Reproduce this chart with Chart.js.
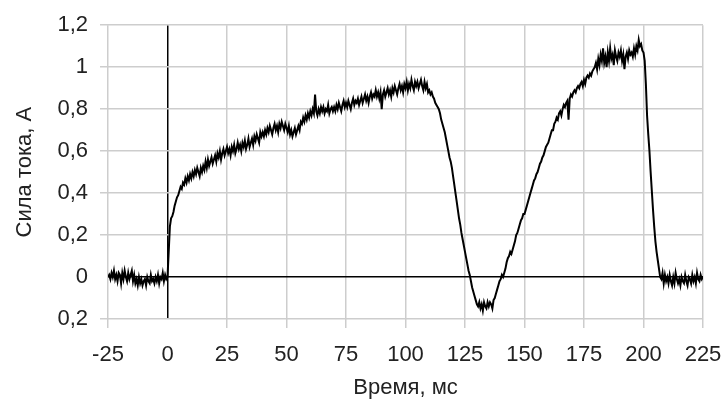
<!DOCTYPE html>
<html>
<head>
<meta charset="utf-8">
<script src="https://cdn.jsdelivr.net/npm/chart.js@4/dist/chart.umd.min.js"></script>
<style>
  body { margin: 0; background: #fff; }
  canvas { display: block; }
</style>
</head>
<body>
<canvas id="chart" width="724" height="401"></canvas>
<script>
// Oscilloscope trace, sampled every 0.5 ms starting at -25 ms
const tStart = -25;
const tStep = 0.5;

// Current, A (10 samples per line = 5 ms)
const current = [
  0.00, 0.01, -0.01, 0.02, 0.00, 0.03, -0.01, 0.01, -0.02, 0.02,   // -25
  0.01, -0.03, 0.02, -0.01, 0.03, 0.00, -0.02, 0.02, -0.01, 0.01,  // -20
  0.03, -0.02, 0.01, -0.03, -0.01, -0.04, 0.00, -0.03, -0.01, -0.04, // -15
  -0.02, -0.01, -0.04, 0.00, -0.02, -0.03, 0.01, -0.02, -0.01, -0.03, // -10
  0.00, -0.02, 0.01, -0.03, 0.00, -0.01, 0.02, -0.02, 0.01, -0.01,  // -5
  0.00, 0.12, 0.24, 0.28, 0.29, 0.31, 0.34, 0.36, 0.38, 0.39,       // 0
  0.41, 0.43, 0.42, 0.45, 0.44, 0.47, 0.45, 0.48, 0.46, 0.49,       // 5
  0.47, 0.50, 0.48, 0.51, 0.49, 0.52, 0.50, 0.48, 0.52, 0.50,       // 10
  0.53, 0.51, 0.55, 0.52, 0.56, 0.53, 0.55, 0.57, 0.54, 0.56,       // 15
  0.58, 0.55, 0.59, 0.57, 0.60, 0.56, 0.59, 0.61, 0.58, 0.60,       // 20
  0.62, 0.59, 0.61, 0.58, 0.62, 0.60, 0.63, 0.59, 0.61, 0.64,       // 25
  0.61, 0.63, 0.60, 0.64, 0.62, 0.65, 0.61, 0.63, 0.66, 0.62,       // 30
  0.64, 0.66, 0.63, 0.67, 0.65, 0.68, 0.66, 0.64, 0.69, 0.67,       // 35
  0.69, 0.67, 0.70, 0.68, 0.71, 0.69, 0.72, 0.70, 0.68, 0.71,       // 40
  0.73, 0.70, 0.72, 0.69, 0.73, 0.71, 0.74, 0.72, 0.70, 0.73,       // 45
  0.71, 0.69, 0.72, 0.68, 0.70, 0.67, 0.69, 0.71, 0.68, 0.70,       // 50
  0.72, 0.70, 0.74, 0.73, 0.76, 0.74, 0.77, 0.75, 0.78, 0.76,       // 55
  0.79, 0.77, 0.80, 0.78, 0.87, 0.79, 0.77, 0.80, 0.78, 0.81,       // 60
  0.79, 0.81, 0.78, 0.80, 0.79, 0.82, 0.78, 0.80, 0.81, 0.79,       // 65
  0.81, 0.79, 0.82, 0.80, 0.83, 0.81, 0.79, 0.82, 0.84, 0.81,       // 70
  0.83, 0.81, 0.84, 0.82, 0.80, 0.83, 0.85, 0.82, 0.84, 0.83,       // 75
  0.85, 0.82, 0.84, 0.86, 0.83, 0.85, 0.87, 0.84, 0.86, 0.83,       // 80
  0.86, 0.88, 0.85, 0.87, 0.86, 0.89, 0.86, 0.88, 0.85, 0.88,       // 85
  0.80, 0.87, 0.89, 0.86, 0.88, 0.90, 0.87, 0.89, 0.86, 0.90,       // 90
  0.88, 0.91, 0.89, 0.87, 0.90, 0.92, 0.89, 0.91, 0.88, 0.92,       // 95
  0.90, 0.93, 0.89, 0.92, 0.90, 0.94, 0.91, 0.89, 0.93, 0.91,       // 100
  0.93, 0.90, 0.92, 0.94, 0.91, 0.89, 0.93, 0.90, 0.92, 0.88,       // 105
  0.89, 0.87, 0.88, 0.86, 0.85, 0.83, 0.82, 0.81, 0.80, 0.78,       // 110
  0.75, 0.73, 0.71, 0.69, 0.66, 0.63, 0.60, 0.57, 0.55, 0.52,       // 115
  0.48, 0.44, 0.40, 0.36, 0.32, 0.28, 0.25, 0.21, 0.18, 0.15,       // 120
  0.12, 0.09, 0.06, 0.03, 0.01, -0.02, -0.05, -0.07, -0.09, -0.11,  // 125
  -0.13, -0.14, -0.12, -0.15, -0.13, -0.16, -0.12, -0.14, -0.15, -0.12, // 130
  -0.14, -0.12, -0.13, -0.15, -0.11, -0.10, -0.08, -0.06, -0.04, -0.02, // 135
  -0.01, 0.01, 0.00, 0.02, 0.04, 0.07, 0.09, 0.10, 0.12, 0.11,      // 140
  0.13, 0.15, 0.17, 0.20, 0.21, 0.23, 0.25, 0.27, 0.28, 0.30,       // 145
  0.30, 0.32, 0.34, 0.36, 0.38, 0.40, 0.42, 0.44, 0.46, 0.47,       // 150
  0.49, 0.50, 0.52, 0.54, 0.55, 0.57, 0.58, 0.60, 0.62, 0.63,       // 155
  0.64, 0.66, 0.68, 0.70, 0.70, 0.73, 0.74, 0.76, 0.75, 0.78,       // 160
  0.79, 0.77, 0.80, 0.82, 0.81, 0.83, 0.84, 0.75, 0.85, 0.87,       // 165
  0.86, 0.88, 0.89, 0.88, 0.90, 0.91, 0.90, 0.92, 0.93, 0.91,       // 170
  0.94, 0.92, 0.95, 0.96, 0.95, 0.97, 0.96, 0.98, 0.99, 1.00,       // 175
  1.02, 0.99, 1.04, 1.01, 1.06, 1.03, 1.09, 1.02, 1.05, 1.00,       // 180
  1.07, 1.03, 1.09, 1.04, 1.06, 1.01, 1.08, 1.05, 1.03, 1.07,       // 185
  1.05, 1.08, 1.03, 1.06, 0.99, 1.05, 1.07, 1.04, 1.08, 1.06,       // 190
  1.07, 1.05, 1.09, 1.06, 1.10, 1.08, 1.13, 1.10, 1.11, 1.08,       // 195
  1.07, 1.03, 0.92, 0.77, 0.68, 0.60, 0.50, 0.41, 0.32, 0.24,       // 200
  0.17, 0.12, 0.08, 0.04, 0.00, -0.01, 0.02, -0.03, 0.01, -0.02,    // 205
  0.00, -0.03, 0.01, -0.02, -0.04, 0.00, -0.03, 0.02, -0.01, -0.03, // 210
  -0.01, -0.04, 0.00, -0.02, -0.03, 0.01, -0.02, -0.04, 0.00, -0.01, // 215
  -0.03, 0.01, -0.02, 0.00, -0.03, 0.02, -0.01, -0.02, 0.01, -0.01, // 220
  0.00                                                              // 225
];

// Axis labels as they appear on the chart
const xTickValues = [-25, 0, 25, 50, 75, 100, 125, 150, 175, 200, 225];
const xTickLabels = ["-25", "0", "25", "50", "75", "100", "125", "150", "175", "200", "225"];
const yTickValues = [-0.2, 0, 0.2, 0.4, 0.6, 0.8, 1, 1.2];
const yTickLabels = ["0,2", "0", "0,2", "0,4", "0,6", "0,8", "1", "1,2"];

const xTitle = "Время, мс";
const yTitle = "Сила тока, А";

const points = current.map((v, i) => ({ x: tStart + i * tStep, y: v }));

const fontFamily = "'Liberation Sans', Arial, sans-serif";
const gridGray = "#cdcdcd";

function labelFor(values, labels, v) {
    const i = values.findIndex(t => Math.abs(t - v) < 1e-6);
    return i >= 0 ? labels[i] : "";
}

new Chart(document.getElementById("chart"), {
    type: "line",
    data: {
        datasets: [{
            data: points,
            borderColor: "#000",
            borderWidth: 2,
            pointRadius: 0,
            tension: 0,
            fill: false
        }]
    },
    options: {
        responsive: false,
        animation: false,
        layout: { padding: { top: 22, right: 21, left: 0, bottom: 0 } },
        plugins: { legend: { display: false }, tooltip: { enabled: false } },
        scales: {
            x: {
                type: "linear",
                min: -25,
                max: 225,
                afterFit: s => {
                    s.height = 82;
                    // keep the plot edge where the picture has it
                    s.paddingLeft = 0;
                    s.paddingRight = 0;
                },
                ticks: {
                    stepSize: 25,
                    padding: 14,
                    maxRotation: 0,
                    color: "#222",
                    font: { family: fontFamily, size: 22 },
                    callback: v => labelFor(xTickValues, xTickLabels, v)
                },
                grid: {
                    color: c => (c.tick && c.tick.value === 0) ? "#000" : gridGray,
                    tickColor: c => (c.tick && c.tick.value === 0) ? "rgba(0,0,0,0)" : gridGray,
                    lineWidth: 1.5,
                    tickLength: 9
                },
                border: { display: false },
                title: {
                    display: true,
                    text: xTitle,
                    color: "#222",
                    font: { family: fontFamily, size: 22 },
                    padding: { top: 0, bottom: 0 }
                }
            },
            y: {
                min: -0.2,
                max: 1.2,
                afterFit: s => { s.width = 108; },
                ticks: {
                    stepSize: 0.2,
                    padding: 12,
                    color: "#222",
                    font: { family: fontFamily, size: 22 },
                    callback: v => labelFor(yTickValues, yTickLabels, v)
                },
                grid: {
                    color: c => (c.tick && Math.abs(c.tick.value) < 1e-6) ? "#000" : gridGray,
                    tickColor: c => (c.tick && Math.abs(c.tick.value) < 1e-6) ? "rgba(0,0,0,0)" : gridGray,
                    lineWidth: 1.5,
                    tickLength: 8
                },
                border: { display: false },
                title: {
                    display: true,
                    text: yTitle,
                    color: "#222",
                    font: { family: fontFamily, size: 22 },
                    padding: { top: 12, bottom: 0 }
                }
            }
        }
    }
});
</script>
</body>
</html>
